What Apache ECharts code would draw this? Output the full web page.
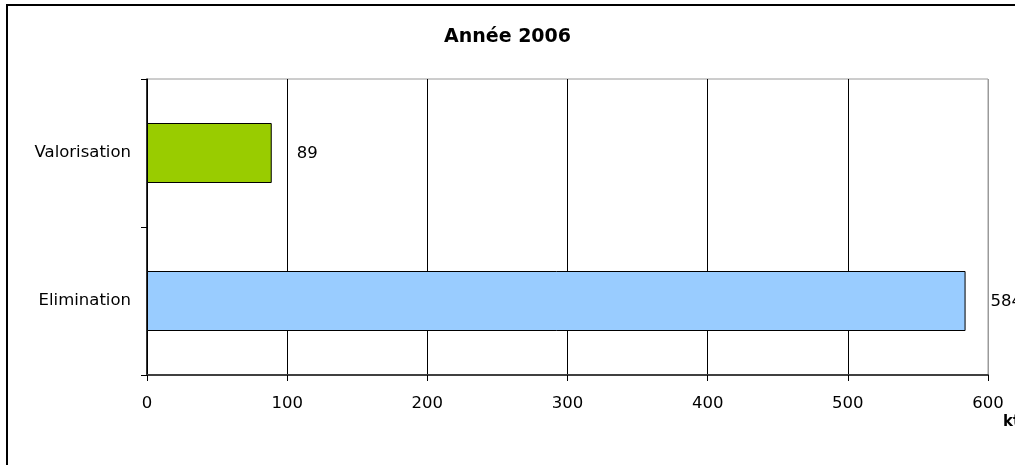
<!DOCTYPE html>
<html>
<head>
<meta charset="utf-8">
<script src="https://cdn.jsdelivr.net/npm/echarts@6/dist/echarts.min.js"></script>
<style>
  html, body { margin: 0; padding: 0; background: #fff; }
  #chart { width: 1015px; height: 465px; }
</style>
</head>
<body>
<div id="chart"></div>
<script>
// Waste treatment tonnage, year 2006 (kt)
const categories = ['Elimination', 'Valorisation'];
const values = [584, 89];
const barColors = ['#99CCFF', '#99CC00'];
const xTicks = [0, 100, 200, 300, 400, 500, 600];
const titleText = 'Année 2006';
const unitText = 'kt';

const FONT = 'DejaVu Sans';

const chart = echarts.init(document.getElementById('chart'), null, { renderer: 'canvas' });

chart.setOption({
  animation: false,
  backgroundColor: '#fff',
  title: {
    text: titleText,
    left: 'center',
    top: 23,
    textStyle: { fontFamily: FONT, fontSize: 19, fontWeight: 'bold', color: '#000' }
  },
  grid: {
    left: 147, right: 27, top: 79, bottom: 90,
    show: true, borderColor: '#9a9a9a', borderWidth: 1
  },
  xAxis: {
    type: 'value',
    min: xTicks[0],
    max: xTicks[xTicks.length - 1],
    interval: 100,
    axisLine: { show: true, lineStyle: { color: '#404040', width: 2 } },
    axisTick: { show: true, length: 6, lineStyle: { color: '#000' } },
    axisLabel: { margin: 20, fontFamily: FONT, fontSize: 16.5, color: '#000' },
    splitLine: {
      show: true,
      lineStyle: { color: ['#000', '#000', '#000', '#000', '#000', '#000', '#9a9a9a'], width: 1 }
    }
  },
  yAxis: {
    type: 'category',
    data: categories,
    axisLine: { show: true, lineStyle: { color: '#000', width: 1.5 } },
    axisTick: { show: true, length: 6, lineStyle: { color: '#000' } },
    axisLabel: { margin: 16, fontFamily: FONT, fontSize: 16.5, color: '#000' },
    splitLine: { show: false }
  },
  series: [{
    type: 'bar',
    barWidth: 60,
    data: values.map((v, i) => ({
      value: v,
      itemStyle: { color: barColors[i], borderColor: '#000', borderWidth: 1 }
    })),
    label: {
      show: true,
      position: 'right',
      distance: 25,
      offset: [0, 1],
      fontFamily: FONT,
      fontSize: 16.5,
      color: '#000'
    }
  }],
  graphic: [
    {
      type: 'rect',
      shape: { x: 7, y: 5, width: 1200, height: 700 },
      style: { fill: 'none', stroke: '#000', lineWidth: 2 },
      silent: true
    },
    {
      type: 'text',
      left: 1003,
      top: 415,
      style: { text: unitText, fontFamily: FONT, fontSize: 15, fontWeight: 'bold', fill: '#000' }
    }
  ]
});
</script>
</body>
</html>
